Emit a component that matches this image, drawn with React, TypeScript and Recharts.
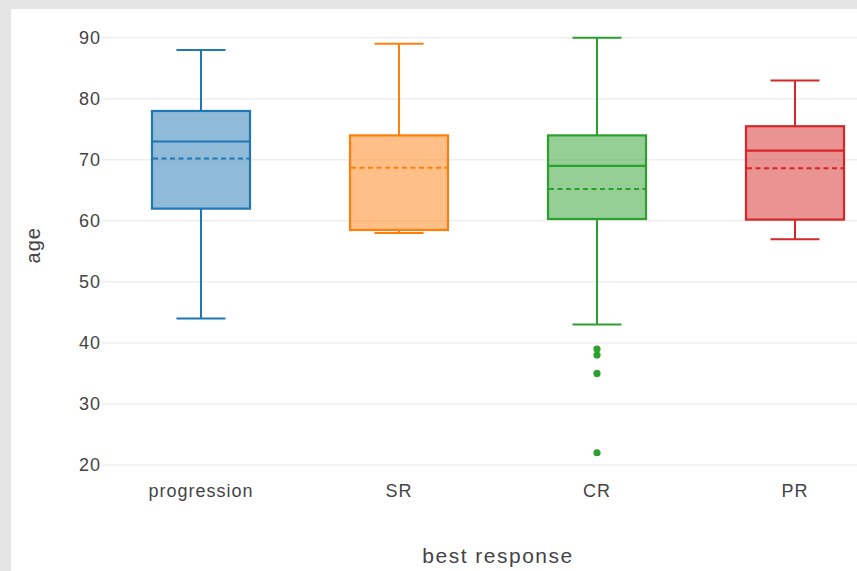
import { ComposedChart, Bar, XAxis, YAxis, CartesianGrid, Label } from "recharts";

const categories = ["progression", "SR", "CR", "PR"];
const lowerWhisker = [44, 58, 43, 57];
const q1 = [62, 58.5, 60.3, 60.2];
const median = [73, 58.5, 69, 71.5];
const q3 = [78, 74, 74, 75.5];
const upperWhisker = [88, 89, 90, 83];
const means = [70.2, 68.7, 65.2, 68.6];
const outliers: number[][] = [[], [], [39, 38, 35, 22], []];
const colors = ["#1f77b4", "#ff7f0e", "#2ca02c", "#d62728"];
const yTicks = [20, 30, 40, 50, 60, 70, 80, 90];

const data = categories.map((cat, i) => ({
  cat,
  lo: lowerWhisker[i],
  q1: q1[i],
  median: median[i],
  q3: q3[i],
  hi: upperWhisker[i],
  mean: means[i],
  outliers: outliers[i],
  color: colors[i],
}));

type Row = (typeof data)[number];

// full vertical extent of a box, outliers included, so the bar spans every mark
const extent = (d: Row): [number, number] => [Math.min(d.lo, ...d.outliers), d.hi];

function BoxShape(props: any) {
  const { x, y, width, height, payload } = props;
  const d = payload as Row;
  const [vMin, vMax] = extent(d);
  // map a value with the same linear scale the bar was drawn with
  const py = (v: number) => y + ((vMax - v) / (vMax - vMin)) * height;
  const cx = x + width / 2;
  const cap = width / 4;
  const c = d.color;
  return (
    <g>
      <line x1={cx} x2={cx} y1={py(d.hi)} y2={py(d.q3)} stroke={c} strokeWidth={2} />
      <line x1={cx} x2={cx} y1={py(d.q1)} y2={py(d.lo)} stroke={c} strokeWidth={2} />
      <line x1={cx - cap} x2={cx + cap} y1={py(d.hi)} y2={py(d.hi)} stroke={c} strokeWidth={2} />
      <line x1={cx - cap} x2={cx + cap} y1={py(d.lo)} y2={py(d.lo)} stroke={c} strokeWidth={2} />
      <rect
        x={x}
        y={py(d.q3)}
        width={width}
        height={py(d.q1) - py(d.q3)}
        fill={c}
        fillOpacity={0.5}
        stroke={c}
        strokeWidth={2.2}
      />
      <line x1={x} x2={x + width} y1={py(d.median)} y2={py(d.median)} stroke={c} strokeWidth={2.2} />
      <line
        x1={x + 1}
        x2={x + width - 1}
        y1={py(d.mean)}
        y2={py(d.mean)}
        stroke={c}
        strokeWidth={2}
        strokeDasharray="5 3.5"
      />
      {d.outliers.map((v, k) => (
        <circle key={k} cx={cx} cy={py(v)} r={3.6} fill={c} />
      ))}
    </g>
  );
}

const tickStyle = { fill: "#444", fontSize: 18, fontFamily: "Liberation Sans, Arial, sans-serif", letterSpacing: 1 };

export default function App() {
  return (
    <div
      style={{
        position: "absolute",
        left: 0,
        top: 0,
        width: 857,
        height: 571,
        overflow: "hidden",
        background: "#e4e4e4",
      }}
    >
      <div style={{ position: "absolute", left: 11, top: 9, right: 0, bottom: 0, background: "#fff" }} />
      <div style={{ position: "absolute", left: 0, top: 0 }}>
        <ComposedChart
          width={900}
          height={571}
          data={data}
          margin={{ top: 17, right: 6, bottom: 67.5, left: 42 }}
        >
          <CartesianGrid
            horizontal
            vertical={false}
            stroke="#eeeeee"
            strokeWidth={1.5}
            horizontalValues={yTicks}
          />
          <XAxis
            dataKey="cat"
            type="category"
            axisLine={false}
            tickLine={false}
            tickSize={0}
            tickMargin={11}
            height={30}
            tick={tickStyle}
            interval={0}
          >
            <Label
              content={({ viewBox }: any) => (
                <text
                  x={viewBox.x + viewBox.width / 2}
                  y={viewBox.y + 89}
                  textAnchor="middle"
                  fill="#444"
                  fontSize={21}
                  letterSpacing={1.5}
                  fontFamily="Liberation Sans, Arial, sans-serif"
                >
                  best response
                </text>
              )}
            />
          </XAxis>
          <YAxis
            type="number"
            domain={[18.6, 93.4]}
            ticks={yTicks}
            allowDataOverflow
            axisLine={false}
            tickLine={false}
            tickSize={0}
            tickMargin={1}
            width={60}
            tick={tickStyle}
          >
            <Label
              content={({ viewBox }: any) => {
                const cx = 33;
                const cy = viewBox.y + viewBox.height / 2;
                return (
                  <text
                    x={cx}
                    y={cy}
                    transform={`rotate(-90 ${cx} ${cy})`}
                    textAnchor="middle"
                    dominantBaseline="central"
                    fill="#444"
                    fontSize={20}
                    letterSpacing={1}
                    fontFamily="Liberation Sans, Arial, sans-serif"
                  >
                    age
                  </text>
                );
              }}
            />
          </YAxis>
          <Bar dataKey={extent} barSize={98} shape={BoxShape} isAnimationActive={false} />
        </ComposedChart>
      </div>
    </div>
  );
}
